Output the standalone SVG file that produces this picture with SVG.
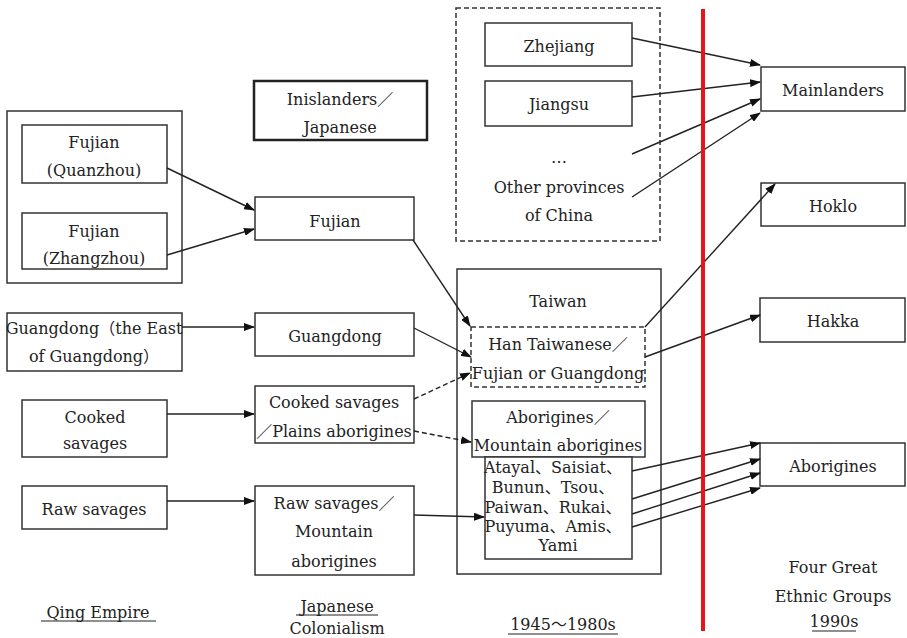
<svg xmlns="http://www.w3.org/2000/svg" width="907" height="638" viewBox="0 0 907 638" font-family="DejaVu Serif, Noto Sans CJK SC, serif">
<style>
.b{fill:#fff;stroke:#333;stroke-width:1.5}
.d{fill:none;stroke:#333;stroke-width:1.5;stroke-dasharray:5,3}
.t{font-size:16px;fill:#222;text-anchor:middle}
.c{stroke:#222;stroke-width:1.4;fill:none}
.cd{stroke:#222;stroke-width:1.4;fill:none;stroke-dasharray:5,3}
.u{stroke:#222;stroke-width:1.2}
</style>
<defs>
<marker id="ah" markerWidth="11" markerHeight="8" refX="10" refY="4" orient="auto" markerUnits="userSpaceOnUse">
<path d="M0,0 L11,4 L0,8 Z" fill="#111"/>
</marker>
</defs>
<rect width="907" height="638" fill="#fff"/>

<g id="qing-fujian-group"><rect class="b" x="7" y="111" width="175" height="172"/></g>
<g id="fujian-quanzhou"><rect class="b" x="22" y="125" width="145" height="58"/><text class="t" x="94" y="148">Fujian</text><text class="t" x="94" y="176">(Quanzhou)</text></g>
<g id="fujian-zhangzhou"><rect class="b" x="22" y="213" width="145" height="56"/><text class="t" x="94" y="237">Fujian</text><text class="t" x="94" y="264">(Zhangzhou)</text></g>
<g id="guangdong-east"><rect class="b" x="7" y="313" width="175" height="58"/><text class="t" x="94" y="334">Guangdong（the East</text><text class="t" x="94" y="362">of Guangdong）</text></g>
<g id="cooked-savages"><rect class="b" x="22" y="400" width="145" height="57"/><text class="t" x="95" y="423">Cooked</text><text class="t" x="95" y="449">savages</text></g>
<g id="raw-savages"><rect class="b" x="22" y="486" width="145" height="43"/><text class="t" x="94" y="515">Raw savages</text></g>
<g id="label-qing"><text class="t" x="98" y="618">Qing Empire</text><line class="u" x1="41" y1="621" x2="156" y2="621"/></g>

<g id="inislanders"><rect fill="#fff" stroke="#222" stroke-width="2.5" x="254" y="81" width="173" height="59"/><text class="t" x="340" y="105">Inislanders／</text><text class="t" x="340" y="133">Japanese</text></g>
<g id="fujian"><rect class="b" x="255" y="197" width="159" height="43"/><text class="t" x="335" y="227">Fujian</text></g>
<g id="guangdong"><rect class="b" x="255" y="313" width="159" height="43"/><text class="t" x="335" y="342">Guangdong</text></g>
<g id="cooked-plains"><rect class="b" x="255" y="386" width="159" height="57"/><text class="t" x="334" y="408">Cooked savages</text><text class="t" x="334" y="437">／Plains aborigines</text></g>
<g id="raw-mountain"><rect class="b" x="255" y="486" width="159" height="89"/><text class="t" x="334" y="509">Raw savages／</text><text class="t" x="334" y="537">Mountain</text><text class="t" x="334" y="567">aborigines</text></g>
<g id="label-japanese"><text class="t" x="337" y="612">Japanese</text><line class="u" x1="296" y1="615" x2="378" y2="615"/><text class="t" x="337" y="634">Colonialism</text></g>

<g id="other-provinces-group"><rect class="d" x="456" y="8" width="204" height="233"/><text class="t" x="559" y="163">…</text><text class="t" x="559" y="193">Other provinces</text><text class="t" x="559" y="221">of China</text></g>
<g id="zhejiang"><rect class="b" x="485" y="23" width="147" height="43"/><text class="t" x="559" y="52">Zhejiang</text></g>
<g id="jiangsu"><rect class="b" x="485" y="81" width="147" height="45"/><text class="t" x="559" y="110">Jiangsu</text></g>

<g id="taiwan"><rect class="b" x="457" y="269" width="204" height="305"/><text class="t" x="558" y="307">Taiwan</text></g>
<g id="han-taiwanese"><rect class="d" x="471" y="327" width="174" height="60"/><text class="t" x="558" y="350">Han Taiwanese／</text><text class="t" x="558" y="379">Fujian or Guangdong</text></g>
<g id="aborigines-mountain"><rect class="b" x="472" y="401" width="173" height="56"/><text class="t" x="558" y="423">Aborigines／</text><text class="t" x="558" y="451">Mountain aborigines</text></g>
<g id="tribes"><rect class="b" x="485" y="457" width="147" height="102"/><text class="t" x="553" y="473">Atayal、Saisiat、</text><text class="t" x="553" y="493">Bunun、Tsou、</text><text class="t" x="553" y="513">Paiwan、Rukai、</text><text class="t" x="553" y="532">Puyuma、Amis、</text><text class="t" x="558" y="551">Yami</text></g>
<g id="label-1945"><text class="t" x="563" y="630">1945～1980s</text><line class="u" x1="508" y1="634" x2="618" y2="634"/></g>

<g id="mainlanders"><rect class="b" x="761" y="67" width="144" height="44"/><text class="t" x="833" y="96">Mainlanders</text></g>
<g id="hoklo"><rect class="b" x="761" y="183" width="144" height="43"/><text class="t" x="833" y="212">Hoklo</text></g>
<g id="hakka"><rect class="b" x="760" y="298" width="145" height="44"/><text class="t" x="833" y="327">Hakka</text></g>
<g id="aborigines"><rect class="b" x="760" y="443" width="145" height="43"/><text class="t" x="833" y="472">Aborigines</text></g>
<g id="label-1990s"><text class="t" x="833" y="573">Four Great</text><text class="t" x="833" y="602">Ethnic Groups</text><text class="t" x="834" y="627">1990s</text><line class="u" x1="812" y1="631" x2="856" y2="631"/></g>

<g id="connectors">
<line class="c" x1="167" y1="168" x2="254" y2="210" marker-end="url(#ah)"/>
<line class="c" x1="167" y1="255" x2="254" y2="229" marker-end="url(#ah)"/>
<line class="c" x1="182" y1="327" x2="254" y2="327" marker-end="url(#ah)"/>
<line class="c" x1="167" y1="414" x2="254" y2="414" marker-end="url(#ah)"/>
<line class="c" x1="167" y1="501" x2="254" y2="501" marker-end="url(#ah)"/>
<line class="c" x1="413" y1="240" x2="470" y2="326" marker-end="url(#ah)"/>
<line class="c" x1="414" y1="328" x2="471" y2="357" marker-end="url(#ah)"/>
<line class="cd" x1="414" y1="399" x2="470" y2="373" marker-end="url(#ah)"/>
<line class="cd" x1="414" y1="431" x2="471" y2="442" marker-end="url(#ah)"/>
<line class="c" x1="414" y1="515" x2="484" y2="517" marker-end="url(#ah)"/>
<line class="c" x1="632" y1="38" x2="760" y2="65" marker-end="url(#ah)"/>
<line class="c" x1="632" y1="97" x2="760" y2="82" marker-end="url(#ah)"/>
<line class="c" x1="632" y1="154" x2="760" y2="99" marker-end="url(#ah)"/>
<line class="c" x1="632" y1="197" x2="760" y2="113" marker-end="url(#ah)"/>
<line class="c" x1="645" y1="327" x2="775" y2="184" marker-end="url(#ah)"/>
<line class="c" x1="645" y1="357" x2="760" y2="315" marker-end="url(#ah)"/>
<line class="c" x1="632" y1="471" x2="760" y2="443" marker-end="url(#ah)"/>
<line class="c" x1="632" y1="499" x2="760" y2="459" marker-end="url(#ah)"/>
<line class="c" x1="632" y1="514" x2="760" y2="473" marker-end="url(#ah)"/>
<line class="c" x1="632" y1="527" x2="760" y2="488" marker-end="url(#ah)"/>
</g>
<line x1="703" y1="9" x2="703" y2="631" stroke="#e8141c" stroke-width="4"/>
</svg>
